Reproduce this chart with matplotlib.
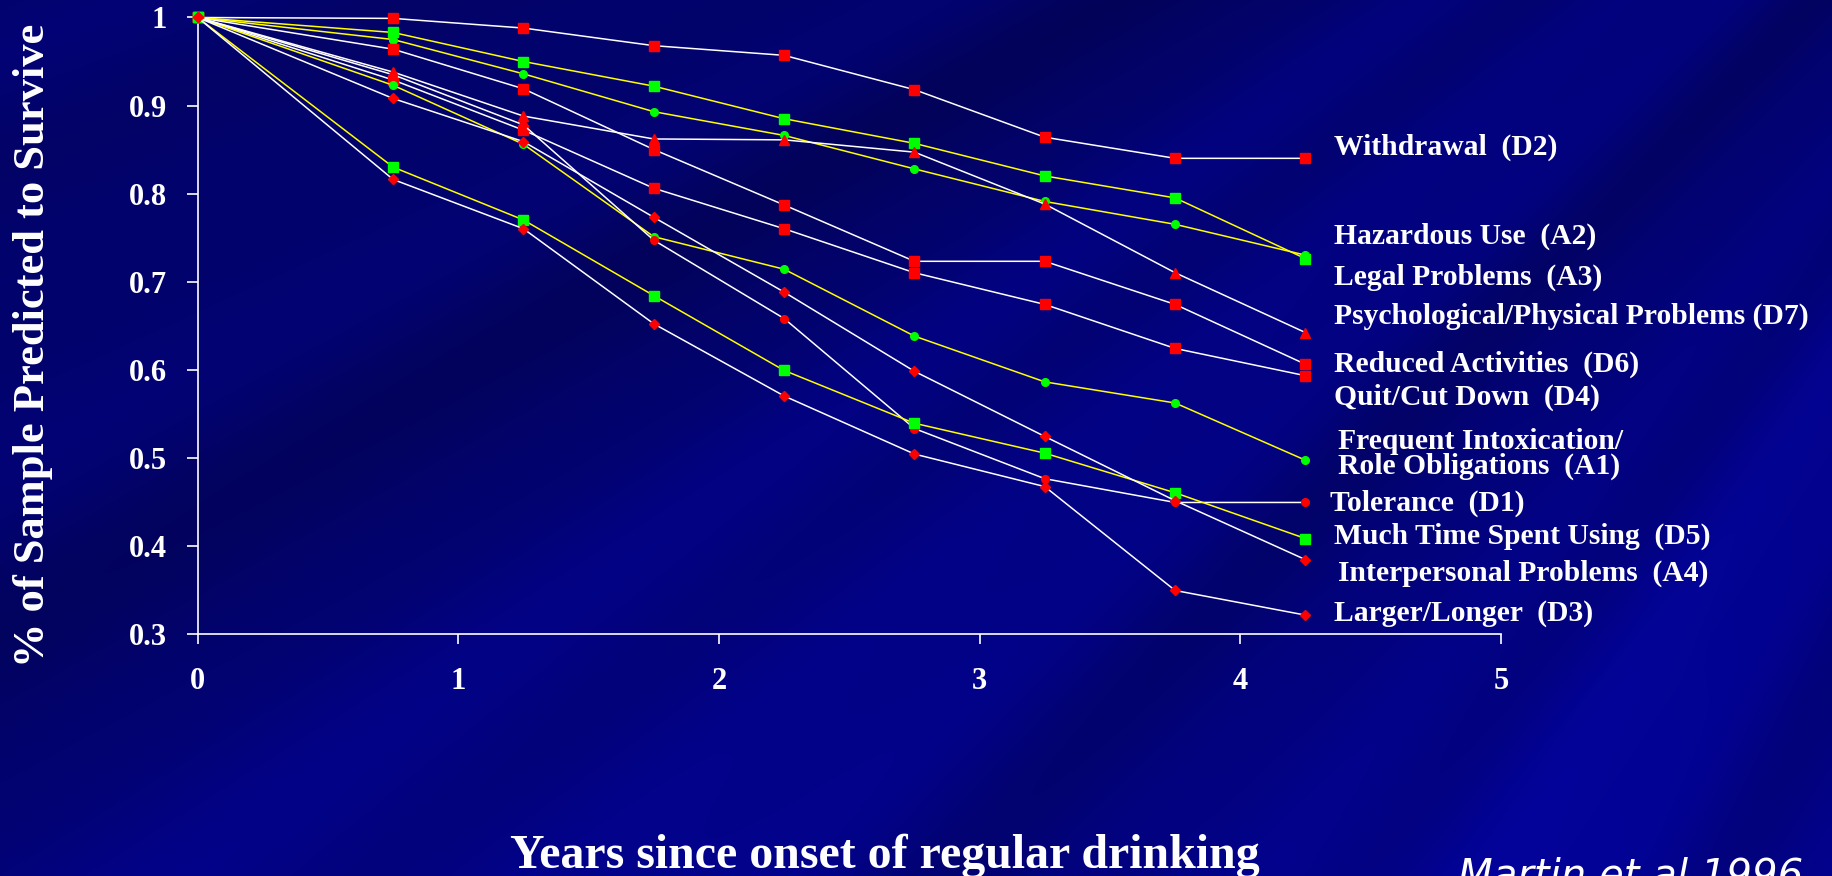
import numpy as np
import matplotlib
matplotlib.use("Agg")
import matplotlib.pyplot as plt

# years since onset (x positions of every series)
years = [0, 0.75, 1.25, 1.75, 2.25, 2.75, 3.25, 3.75, 4.25]

# proportion of sample predicted to survive
withdrawal = [1, 0.999, 0.988, 0.968, 0.957, 0.918, 0.864, 0.840, 0.840]
hazardous = [1, 0.983, 0.950, 0.922, 0.885, 0.857, 0.820, 0.795, 0.726]
legal = [1, 0.975, 0.936, 0.893, 0.866, 0.828, 0.791, 0.765, 0.730]
psych = [1, 0.938, 0.888, 0.862, 0.861, 0.847, 0.788, 0.710, 0.642]
reduced = [1, 0.964, 0.919, 0.850, 0.787, 0.723, 0.723, 0.674, 0.606]
quit_cut = [1, 0.929, 0.872, 0.806, 0.760, 0.710, 0.674, 0.624, 0.593]
freq_intox = [1, 0.923, 0.856, 0.751, 0.714, 0.638, 0.586, 0.562, 0.497]
tolerance = [1, 0.935, 0.878, 0.747, 0.658, 0.533, 0.476, 0.449, 0.449]
much_time = [1, 0.830, 0.770, 0.684, 0.599, 0.539, 0.505, 0.460, 0.408]
interpersonal = [1, 0.908, 0.859, 0.773, 0.688, 0.598, 0.524, 0.451, 0.384]
larger = [1, 0.816, 0.760, 0.652, 0.570, 0.504, 0.467, 0.349, 0.321]

labels = ["Withdrawal  (D2)", "Hazardous Use  (A2)", "Legal Problems  (A3)",
          "Psychological/Physical Problems (D7)", "Reduced Activities  (D6)",
          "Quit/Cut Down  (D4)", "Frequent Intoxication/\nRole Obligations  (A1)",
          "Tolerance  (D1)", "Much Time Spent Using  (D5)",
          "Interpersonal Problems  (A4)", "Larger/Longer  (D3)"]
series = [withdrawal, hazardous, legal, psych, reduced, quit_cut, freq_intox,
          tolerance, much_time, interpersonal, larger]

# styling per series: (marker, marker colour, line colour, marker size)
styles = [("s", "#ff0000", "white", 7.5), ("s", "#00ff00", "#ffff00", 7.5),
          ("o", "#00ff00", "#ffff00", 5.5), ("^", "#ff0000", "white", 6.5),
          ("s", "#ff0000", "white", 7.5), ("s", "#ff0000", "white", 7.5),
          ("o", "#00ff00", "#ffff00", 5.5), ("o", "#ff0000", "white", 5.5),
          ("s", "#00ff00", "#ffff00", 7.5), ("D", "#ff0000", "white", 5),
          ("D", "#ff0000", "white", 5)]
# where the right-hand labels sit (data y)
label_y = [0.853, 0.751, 0.705, 0.661, 0.606, 0.569, 0.504, 0.448, 0.410, 0.369, 0.323]
label_x = [4.36, 4.36, 4.36, 4.36, 4.36, 4.36, 4.375, 4.345, 4.36, 4.375, 4.36]

W, H = 1833, 876
fig = plt.figure(figsize=(W / 100, H / 100), dpi=100)

# slide background: dark navy with a fan of faint stripes
bg = fig.add_axes([0, 0, 1, 1], zorder=-10)
bg.axis("off")
yy, xx = np.mgrid[0:H, 0:W]
base = 0.38 + 0.08 * (xx / W) + 0.10 * (yy / H)
ang = np.arctan2(yy + 900.0, xx - 2700.0)
stripes = 0.04 * np.sin(ang * 21) + 0.03 * np.sin(ang * 47 + 1.3) + 0.015 * np.sin(ang * 90 + 0.4)
b = np.clip(base + stripes, 0, 1)
r = np.clip(0.01 + 0.05 * np.clip(stripes - 0.04, 0, 1) * 4 * (xx / W), 0, 1)
img = np.dstack([r, r, b])
bg.imshow(img, extent=[0, 1, 0, 1], aspect="auto", origin="upper")
bg.set_xlim(0, 1)
bg.set_ylim(0, 1)

ax = fig.add_axes([197.6 / W, 1 - 633.6 / H, (1501 - 197.6) / W, (633.6 - 17.5) / H])
ax.set_facecolor("none")

for vals, (mk, mc, lc, ms) in zip(series, styles):
    ax.plot(years, vals, color=lc, lw=1.1, marker=mk, markersize=ms,
            markerfacecolor=mc, markeredgecolor=mc, clip_on=False, zorder=3)

for lab, lx, ly in zip(labels, label_x, label_y):
    ax.text(lx, ly, lab, color="white", fontsize=21.3, fontweight="bold",
            family="Liberation Serif", va="center", ha="left", clip_on=False,
            linespacing=0.9)

ax.set_xlim(0, 5)
ax.set_ylim(0.3, 1.0)
ax.set_xticks([0, 1, 2, 3, 4, 5])
ax.set_yticks([0.3, 0.4, 0.5, 0.6, 0.7, 0.8, 0.9, 1.0])
ax.set_yticklabels(["0.3", "0.4", "0.5", "0.6", "0.7", "0.8", "0.9", "1"])
for s in ["top", "right"]:
    ax.spines[s].set_visible(False)
for s in ["left", "bottom"]:
    ax.spines[s].set_color("white")
    ax.spines[s].set_linewidth(1.2)
ax.tick_params(axis="y", colors="white", length=8, width=1.2, pad=14)
ax.tick_params(axis="x", colors="white", length=7, width=1.2, pad=17)
for t in ax.get_xticklabels() + ax.get_yticklabels():
    t.set_family("Liberation Serif")
    t.set_fontweight("bold")
    t.set_fontsize(22)
    t.set_color("white")

fig.text(33 / W, 1 - 345 / H, "% of Sample Predicted to Survive", rotation=90,
         color="white", fontsize=32, fontweight="bold", family="Liberation Serif",
         ha="center", va="center")
fig.text(885 / W, 1 - 856 / H, "Years since onset of regular drinking",
         color="white", fontsize=34.5, fontweight="bold", family="Liberation Serif",
         ha="center", va="center")
fig.text(1458 / W, 1 - 857 / H, "Martin et al 1996", color="white", fontsize=29,
         style="italic", family="DejaVu Sans", ha="left", va="top")

fig.savefig("out.png", dpi=100)
